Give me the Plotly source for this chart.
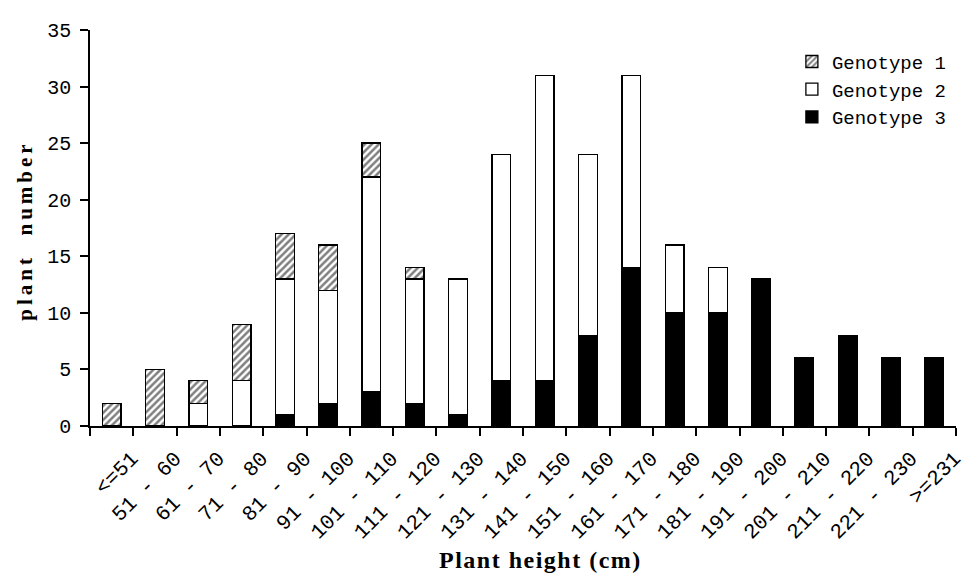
import plotly.graph_objects as go

categories = ["<=51", "51 - 60", "61 - 70", "71 - 80", "81 - 90", "91 - 100",
              "101 - 110", "111 - 120", "121 - 130", "131 - 140", "141 - 150",
              "151 - 160", "161 - 170", "171 - 180", "181 - 190", "191 - 200",
              "201 - 210", "211 - 220", "221 - 230", ">=231"]
genotype1 = [2, 5, 2, 5, 4, 4, 3, 1, 0, 0, 0, 0, 0, 0, 0, 0, 0, 0, 0, 0]
genotype2 = [0, 0, 2, 4, 12, 10, 19, 11, 12, 20, 27, 16, 17, 6, 4, 0, 0, 0, 0, 0]
genotype3 = [0, 0, 0, 0, 1, 2, 3, 2, 1, 4, 4, 8, 14, 10, 10, 13, 6, 8, 6, 6]
y_tick_values = [0, 5, 10, 15, 20, 25, 30, 35]

MONO = "Liberation Mono"
SERIF = "Liberation Serif"


def nz(values):
    return [v if v else None for v in values]


fig = go.Figure()
fig.add_trace(go.Bar(
    name="Genotype 3", x=categories, y=nz(genotype3),
    marker=dict(color="black", line=dict(color="black", width=1.3)),
))
fig.add_trace(go.Bar(
    name="Genotype 2", x=categories, y=nz(genotype2),
    marker=dict(color="white", line=dict(color="black", width=1.3)),
))
fig.add_trace(go.Bar(
    name="Genotype 1", x=categories, y=nz(genotype1),
    marker=dict(color="white", line=dict(color="black", width=1.3),
                pattern=dict(shape="/", fgcolor="black", bgcolor="white",
                             size=5, solidity=0.5)),
))

# the page body adds an 8px offset, so the figure is 8px smaller on each axis
fig.update_layout(
    barmode="stack",
    bargap=0.57,
    width=970, height=573,
    margin=dict(l=82, r=12, t=14, b=155),
    paper_bgcolor="white", plot_bgcolor="white",
    showlegend=True,
    legend=dict(
        traceorder="reversed",
        x=0.8105, xanchor="left", y=0.968, yanchor="top",
        font=dict(family=MONO, size=19, color="black"),
        bgcolor="rgba(0,0,0,0)", itemwidth=30,
    ),
    xaxis=dict(
        type="category",
        showline=True, linecolor="black", linewidth=1.5,
        ticks="outside", ticklen=8, tickwidth=1.5, tickcolor="black",
        tickson="boundaries",
        tickangle=-45,
        tickfont=dict(family=MONO, size=21, color="black"),
        ticklabelstandoff=10,
        ticklabelshift=20,
        showgrid=False, zeroline=False,
    ),
    yaxis=dict(
        range=[0, 35], tickvals=y_tick_values,
        showline=True, linecolor="black", linewidth=1.5,
        ticks="outside", ticklen=8, tickwidth=1.5, tickcolor="black",
        tickfont=dict(family=MONO, size=20, color="black"),
        ticklabelstandoff=5,
        showgrid=False, zeroline=False,
    ),
    annotations=[
        dict(text='<span style="letter-spacing:1.5px">Plant height (cm)</span>',
             xref="paper", yref="paper", x=0.52, y=-0.339,
             xanchor="center", yanchor="middle", showarrow=False,
             font=dict(family=SERIF, size=24, color="black", weight="bold")),
        dict(text='<span style="letter-spacing:4px">plant  number</span>',
             xref="paper", yref="paper", x=-0.0753, y=0.4926,
             xanchor="center", yanchor="middle", showarrow=False, textangle=-90,
             font=dict(family=SERIF, size=21, color="black", weight="bold")),
    ],
)

fig.write_html("out.html")
